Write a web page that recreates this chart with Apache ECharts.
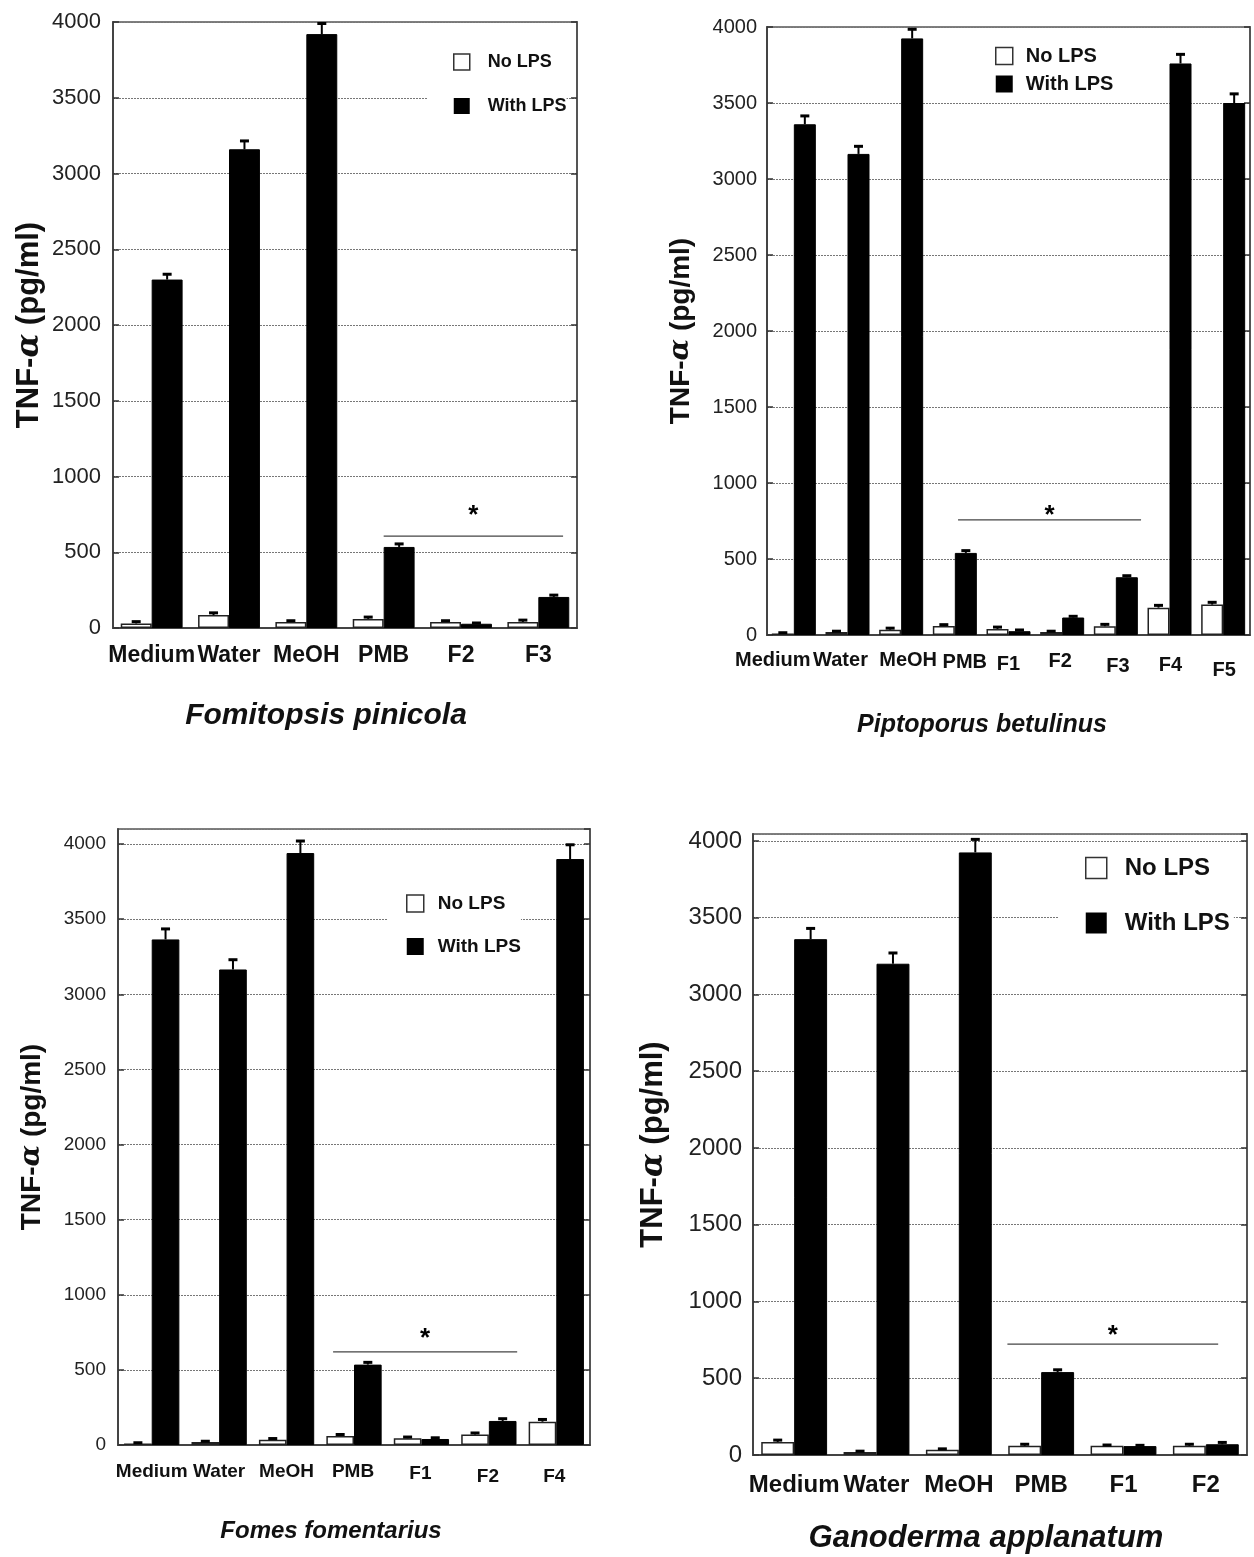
<!DOCTYPE html>
<html>
<head>
<meta charset="utf-8">
<script src="https://cdn.jsdelivr.net/npm/echarts@6/dist/echarts.min.js"></script>
<style>
  html, body { margin: 0; padding: 0; background: #fff; }
  #chart { width: 1254px; height: 1557px; }
</style>
</head>
<body>
<div id="chart"></div>
<script>
// TNF-α production (pg/ml) for four mushroom extracts, without / with LPS
const yTicks = [0, 500, 1000, 1500, 2000, 2500, 3000, 3500, 4000];

// Fomitopsis pinicola
const fpCats = ['Medium', 'Water', 'MeOH', 'PMB', 'F2', 'F3'];
const fpNoLps = [30, 85, 40, 60, 40, 40];
const fpNoLpsErr = [12, 15, 8, 12, 8, 12];
const fpWithLps = [2300, 3160, 3920, 535, 28, 205];
const fpWithLpsErr = [35, 55, 70, 20, 5, 12];

// Piptoporus betulinus
const pbCats = ['Medium', 'Water', 'MeOH', 'PMB', 'F1', 'F2', 'F3', 'F4', 'F5'];
const pbNoLps = [10, 20, 35, 60, 40, 20, 58, 180, 200];
const pbNoLpsErr = [5, 5, 10, 8, 12, 5, 12, 15, 15];
const pbWithLps = [3360, 3165, 3925, 540, 25, 115, 380, 3760, 3500];
const pbWithLpsErr = [55, 50, 60, 15, 8, 8, 10, 60, 60];

// Fomes fomentarius
const ffCats = ['Medium', 'Water', 'MeOH', 'PMB', 'F1', 'F2', 'F4'];
const ffNoLps = [10, 20, 35, 60, 45, 70, 155];
const ffNoLpsErr = [5, 5, 8, 10, 8, 10, 15];
const ffWithLps = [3365, 3165, 3940, 535, 40, 160, 3900];
const ffWithLpsErr = [70, 65, 80, 15, 8, 15, 95];

// Ganoderma applanatum
const gaCats = ['Medium', 'Water', 'MeOH', 'PMB', 'F1', 'F2'];
const gaNoLps = [85, 20, 35, 60, 60, 60];
const gaNoLpsErr = [12, 5, 5, 10, 5, 10];
const gaWithLps = [3360, 3200, 3925, 540, 58, 70];
const gaWithLpsErr = [70, 70, 85, 15, 5, 12];

// Significance bracket: [start, end] in category units from the first category centre, level, star level
const fpSig = [3.0, 5.32, 607, 780];
const pbSig = [3.06, 6.47, 757, 822];
const ffSig = [2.69, 5.42, 620, 747];
const gaSig = [2.59, 5.15, 722, 814];

const FONT = '"Liberation Sans", Arial, Helvetica, sans-serif';

const panels = [
  {
    title: 'Fomitopsis pinicola', cats: fpCats, no: fpNoLps, noErr: fpNoLpsErr, yes: fpWithLps, yesErr: fpWithLpsErr, sig: fpSig,
    grid: { left: 113, top: 22, width: 464, height: 606 }, max: 4000,
    tickFont: 22, labelMargin: 12, catFont: 23, catMargin: 16, catDy: [], catDx: [],
    nameFont: 31, nameGap: 68, gap: 0.2,
    titleX: 326, titleY: 701, titleFont: 30,
    legend: { left: 427, top: 40, padding: [13, 0, 12, 26], item: 16, itemGap: 26, font: 18, textPad: 13, bg: '#fff' }
  },
  {
    title: 'Piptoporus betulinus', cats: pbCats, no: pbNoLps, noErr: pbNoLpsErr, yes: pbWithLps, yesErr: pbWithLpsErr, sig: pbSig,
    grid: { left: 767, top: 27, width: 483, height: 608 }, max: 4000,
    tickFont: 20, labelMargin: 10, catFont: 20, catMargin: 15, catDy: [0, 0, 0, 2, 4, 1, 6, 5, 10], catDx: [-21, -7, 7, 10, 0, -2, 2, 1, 1],
    nameFont: 28, nameGap: 72, gap: 0.18,
    titleX: 982, titleY: 713, titleFont: 25,
    legend: { left: 995, top: 46, padding: [0, 0, 0, 0], item: 17, itemGap: 8, font: 20, textPad: 8, bg: 'transparent' }
  },
  {
    title: 'Fomes fomentarius', cats: ffCats, no: ffNoLps, noErr: ffNoLpsErr, yes: ffWithLps, yesErr: ffWithLpsErr, sig: ffSig,
    grid: { left: 118, top: 829, width: 472, height: 616 }, max: 4100,
    tickFont: 19, labelMargin: 12, catFont: 19, catMargin: 17, catDy: [0, 0, 0, 0, 2, 5, 5], catDx: [0, 0, 0, -1, -1, -1, -2],
    nameFont: 28, nameGap: 72, gap: 0.18,
    titleX: 331, titleY: 1519, titleFont: 24,
    legend: { left: 388, top: 886, padding: [8, 0, 8, 18], item: 17, itemGap: 24, font: 19, textPad: 9, bg: '#fff' }
  },
  {
    title: 'Ganoderma applanatum', cats: gaCats, no: gaNoLps, noErr: gaNoLpsErr, yes: gaWithLps, yesErr: gaWithLpsErr, sig: gaSig,
    grid: { left: 753, top: 834, width: 494, height: 621 }, max: 4045,
    tickFont: 24, labelMargin: 11, catFont: 24, catMargin: 18, catDy: [], catDx: [],
    nameFont: 31, nameGap: 84, gap: 0.2,
    titleX: 986, titleY: 1523, titleFont: 31,
    legend: { left: 1059, top: 848, padding: [8, 4, 8, 26], item: 21, itemGap: 31, font: 24, textPad: 13, bg: '#fff' }
  }
];

function errorRender(sign, gap) {
  return function (params, api) {
    const idx = api.value(0), v = api.value(1), e = api.value(2);
    const band = api.size([1, 0])[0];
    const off = sign * band * (1 - gap) / 4;
    const top = api.coord([idx, v]);
    const hi = api.coord([idx, v + e]);
    const x = top[0] + off;
    return {
      type: 'group',
      children: [
        { type: 'line', shape: { x1: x, y1: top[1], x2: x, y2: hi[1] }, style: { stroke: '#000', lineWidth: 2 } },
        { type: 'line', shape: { x1: x - 4.5, y1: hi[1], x2: x + 4.5, y2: hi[1] }, style: { stroke: '#000', lineWidth: 3 } }
      ]
    };
  };
}

function sigRender(params, api) {
  const s = api.value(0), e = api.value(1), lvl = api.value(2), star = api.value(3), pos = api.value(4);
  const band = api.size([1, 0])[0];
  const base = api.coord([0, lvl]);
  const starPt = api.coord([0, star]);
  return {
    type: 'group',
    children: [
      { type: 'line', shape: { x1: base[0] + s * band, y1: base[1], x2: base[0] + e * band, y2: base[1] },
        style: { stroke: '#444', lineWidth: 1.2 } },
      { type: 'text', x: base[0] + pos * band, y: starPt[1] + 6,
        style: { text: '*', fontSize: 26, fontWeight: 'bold', fontFamily: FONT, fill: '#000', align: 'center', verticalAlign: 'middle' } }
    ]
  };
}

// shift a centred label by dx / dy pixels through asymmetric padding
function labelPad(dx, dy) {
  dx = dx || 0; dy = dy || 0;
  return [Math.max(dy, 0), dx < 0 ? -2 * dx : 0, 0, dx > 0 ? 2 * dx : 0];
}

const grid = [], xAxis = [], yAxis = [], series = [], legend = [], title = [];

panels.forEach((p, g) => {
  grid.push(Object.assign({ show: true, borderColor: '#555', borderWidth: 1.5, backgroundColor: 'transparent' }, p.grid));

  xAxis.push({
    type: 'category', gridIndex: g,
    data: p.cats.map((c, i) => ({ value: c, textStyle: { padding: labelPad(p.catDx[i], p.catDy[i]) } })),
    axisLine: { show: true, lineStyle: { color: '#444', width: 2 } },
    axisTick: { show: false },
    axisLabel: { interval: 0, fontFamily: FONT, fontSize: p.catFont, fontWeight: 'bold', color: '#111', margin: p.catMargin },
    splitLine: { show: false }
  });

  const tickMax = yTicks[yTicks.length - 1];
  const common = {
    type: 'value', gridIndex: g, min: yTicks[0], max: p.max, interval: yTicks[1] - yTicks[0]
  };
  yAxis.push(Object.assign({}, common, {
    position: 'left',
    name: '{a|TNF-}{b|α}{a| (pg/ml)}',
    nameLocation: 'middle', nameGap: p.nameGap, nameRotate: 90,
    nameTextStyle: {
      rich: {
        a: { fontFamily: FONT, fontSize: p.nameFont, fontWeight: 'bold', color: '#111' },
        b: { fontFamily: '"DejaVu Serif", serif', fontSize: p.nameFont, fontStyle: 'italic', fontWeight: 'bold', color: '#111' }
      }
    },
    axisLine: { show: true, lineStyle: { color: '#444', width: 2 } },
    axisTick: { show: true, inside: true, length: 6, lineStyle: { color: '#333', width: 1.5 } },
    axisLabel: {
      fontFamily: FONT, fontSize: p.tickFont, color: '#222', margin: p.labelMargin, showMaxLabel: p.max === tickMax,
      formatter: v => (yTicks.indexOf(v) >= 0 ? String(v) : '')
    },
    splitLine: { show: true, lineStyle: { color: '#777', width: 1, type: [2, 1] } }
  }));
  yAxis.push(Object.assign({}, common, {
    position: 'right',
    axisLine: { show: true, lineStyle: { color: '#555', width: 2 } },
    axisTick: { show: true, inside: true, length: 6, lineStyle: { color: '#333', width: 1.5 } },
    axisLabel: { show: false },
    splitLine: { show: false }
  }));

  const yIdx = 2 * g;
  series.push({
    name: 'No LPS', type: 'bar', xAxisIndex: g, yAxisIndex: yIdx, data: p.no,
    barGap: 0, barCategoryGap: (p.gap * 100) + '%',
    itemStyle: { color: '#fff', borderColor: '#222', borderWidth: 1.5 },
    emphasis: { disabled: true }, silent: true
  });
  series.push({
    name: 'With LPS', type: 'bar', xAxisIndex: g, yAxisIndex: yIdx, data: p.yes,
    barGap: 0, barCategoryGap: (p.gap * 100) + '%',
    itemStyle: { color: '#000', borderColor: '#000', borderWidth: 1 },
    emphasis: { disabled: true }, silent: true
  });
  series.push({
    type: 'custom', xAxisIndex: g, yAxisIndex: yIdx, z: 5, silent: true,
    renderItem: errorRender(-1, p.gap),
    data: p.no.map((v, i) => [i, v, p.noErr[i]])
  });
  series.push({
    type: 'custom', xAxisIndex: g, yAxisIndex: yIdx, z: 5, silent: true,
    renderItem: errorRender(1, p.gap),
    data: p.yes.map((v, i) => [i, v, p.yesErr[i]])
  });
  series.push({
    type: 'custom', xAxisIndex: g, yAxisIndex: yIdx, z: 6, silent: true,
    renderItem: sigRender,
    data: [[p.sig[0], p.sig[1], p.sig[2], p.sig[3], (p.sig[0] + p.sig[1]) / 2]]
  });

  const L = p.legend;
  legend.push({
    left: L.left, top: L.top, orient: 'vertical', padding: L.padding,
    backgroundColor: L.bg, selectedMode: false, z: 10,
    itemWidth: L.item, itemHeight: L.item, itemGap: L.itemGap, icon: 'rect',
    textStyle: { fontFamily: FONT, fontSize: L.font, fontWeight: 'bold', color: '#111', lineHeight: L.item, padding: [0, 0, 0, L.textPad] },
    data: [
      { name: 'No LPS', itemStyle: { color: '#fff', borderColor: '#333', borderWidth: 1.5 } },
      { name: 'With LPS', itemStyle: { color: '#000', borderColor: '#000', borderWidth: 0 } }
    ]
  });

  title.push({
    text: p.title, left: p.titleX, top: p.titleY, textAlign: 'center', padding: 0,
    textStyle: { fontFamily: FONT, fontSize: p.titleFont, fontWeight: 'bold', fontStyle: 'italic', color: '#111' }
  });
});

const chart = echarts.init(document.getElementById('chart'), null, { renderer: 'canvas' });
chart.setOption({
  animation: false,
  backgroundColor: '#fff',
  title, grid, xAxis, yAxis, series, legend,
  tooltip: { show: false }
});
</script>
</body>
</html>
